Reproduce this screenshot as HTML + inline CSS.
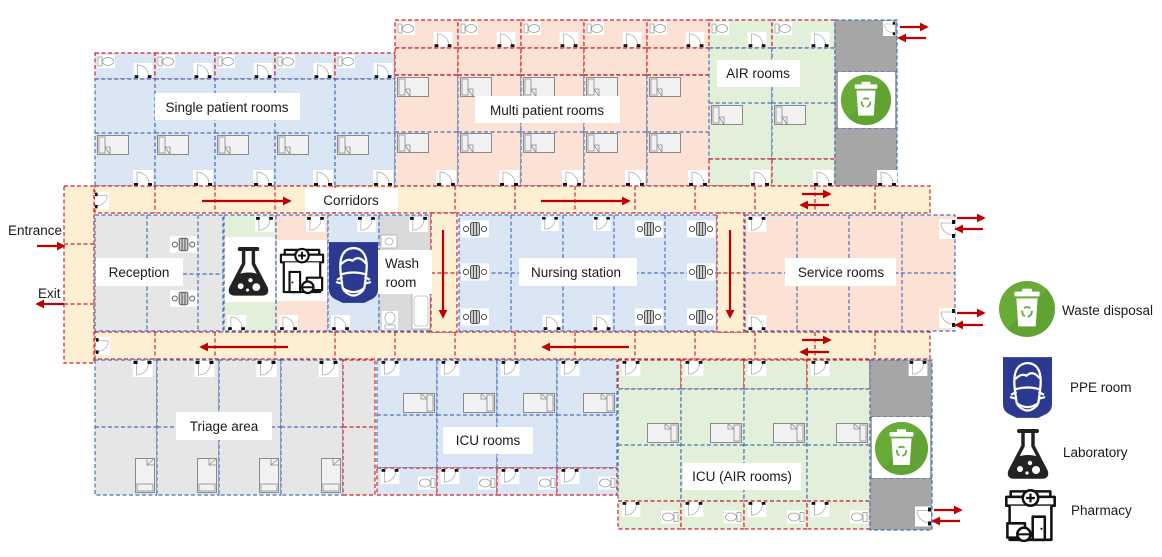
<!DOCTYPE html>
<html><head><meta charset="utf-8"><style>
html,body{margin:0;padding:0;background:#fff}
svg{display:block}
.r{stroke:#c9252c;stroke-width:1.2;stroke-dasharray:4 2.5}
.b{stroke:#4a70bb;stroke-width:1.2;stroke-dasharray:4 2.5}
.fb{fill:#dae6f4}.fp{fill:#fbe2d4}.fg{fill:#e2efd9}.fy{fill:#e6e6e6}.fd{fill:#a6a6a6}.fc{fill:#fdefd4}.fw{fill:#dadada}
text{font-family:"Liberation Sans",sans-serif;font-size:13.5px;fill:#1a1a1a}
.ar{stroke:#c00000;stroke-width:2.2;fill:none}
</style></head><body>
<svg width="1162" height="557" viewBox="0 0 1162 557" xmlns="http://www.w3.org/2000/svg">
<defs>
<marker id="ah" viewBox="0 0 10 10" refX="8" refY="5" markerWidth="4" markerHeight="4" orient="auto"><path d="M0 0L10 5L0 10z" fill="#c00000"/></marker>
<symbol id="door" viewBox="0 0 20 16"><rect width="20" height="16" fill="#fff"/><path d="M4 14V2A12 12 0 0 1 16 14" fill="none" stroke="#aaa" stroke-width="0.8"/><rect x="1" y="13" width="4" height="3" fill="#111"/><rect x="15" y="13" width="4" height="3" fill="#111"/></symbol>
<symbol id="doorT" viewBox="0 0 20 16"><rect width="20" height="16" fill="#fff"/><path d="M4 2V14A12 12 0 0 0 16 2" fill="none" stroke="#aaa" stroke-width="0.8"/><rect x="1" y="0" width="4" height="3" fill="#111"/><rect x="15" y="0" width="4" height="3" fill="#111"/></symbol>
<symbol id="doorR" viewBox="0 0 16 20"><rect width="16" height="20" fill="#fff"/><path d="M14 4H2A12 12 0 0 0 14 16" fill="none" stroke="#aaa" stroke-width="0.8"/><rect x="13" y="1" width="3" height="4" fill="#111"/><rect x="13" y="15" width="3" height="4" fill="#111"/></symbol>
<symbol id="doorL" viewBox="0 0 16 20"><rect width="16" height="20" fill="#fff"/><path d="M2 4H14A12 12 0 0 1 2 16" fill="none" stroke="#aaa" stroke-width="0.8"/><rect x="0" y="1" width="3" height="4" fill="#111"/><rect x="0" y="15" width="3" height="4" fill="#111"/></symbol>
<symbol id="toilet" viewBox="0 0 18 13"><rect width="18" height="13" fill="#fff"/><rect x="1" y="2" width="4" height="9" fill="#fff" stroke="#999" stroke-width="0.8"/><ellipse cx="11" cy="6.5" rx="5.5" ry="4" fill="#fff" stroke="#999" stroke-width="0.8"/></symbol>
<symbol id="toiletR" viewBox="0 0 18 13"><rect width="18" height="13" fill="#fff"/><rect x="13" y="2" width="4" height="9" fill="#fff" stroke="#999" stroke-width="0.8"/><ellipse cx="7" cy="6.5" rx="5.5" ry="4" fill="#fff" stroke="#999" stroke-width="0.8"/></symbol>
<symbol id="bed" viewBox="0 0 32 20"><rect x="0.5" y="0.5" width="31" height="19" fill="#f1f1f1" stroke="#8a8a8a"/><rect x="2" y="2" width="6" height="16" fill="#f1f1f1" stroke="#8a8a8a" stroke-width="0.8"/><path d="M8 12H13V19.5M8 12L13 19.5" fill="none" stroke="#8a8a8a" stroke-width="0.8"/></symbol>
<symbol id="bedR" viewBox="0 0 32 20"><rect x="0.5" y="0.5" width="31" height="19" fill="#f1f1f1" stroke="#8a8a8a"/><rect x="24" y="2" width="6" height="16" fill="#f1f1f1" stroke="#8a8a8a" stroke-width="0.8"/><path d="M18 0.5V6H24M18 0.5L24 6" fill="none" stroke="#8a8a8a" stroke-width="0.8"/></symbol>
<symbol id="bedV" viewBox="0 0 20 35"><rect x="0.5" y="0.5" width="19" height="34" fill="#f1f1f1" stroke="#8a8a8a"/><rect x="2" y="26" width="16" height="7" fill="#f1f1f1" stroke="#8a8a8a" stroke-width="0.8"/><path d="M12 0.5V7H19.5M12 7L19.5 0.5" fill="none" stroke="#8a8a8a" stroke-width="0.8"/></symbol>
<symbol id="chair" viewBox="0 0 28 17"><rect width="28" height="17" fill="#fff"/><circle cx="5" cy="8.5" r="2.6" fill="none" stroke="#555" stroke-width="1"/><circle cx="23" cy="8.5" r="2.6" fill="none" stroke="#555" stroke-width="1"/><rect x="9.5" y="2" width="9" height="13" rx="2" fill="#ccc" stroke="#555" stroke-width="1"/><path d="M12.5 2.5V14.5M15.5 2.5V14.5" stroke="#555" stroke-width="1"/></symbol>
<symbol id="flask" viewBox="0 0 44 52"><path d="M17 4V19L4 44Q2 50 8 50H36Q42 50 40 44L27 19V4" fill="#fff" stroke="#222" stroke-width="3.5" stroke-linejoin="round"/><path d="M13 4H31" stroke="#222" stroke-width="4" stroke-linecap="round"/><path d="M11 30Q22 26 33 30L40 44Q42 50 36 50H8Q2 50 4 44Z" fill="#222"/><circle cx="14" cy="42" r="3" fill="#fff"/><circle cx="24" cy="36" r="2.2" fill="#fff"/><circle cx="30" cy="43" r="4" fill="#fff"/><circle cx="21" cy="46" r="1.6" fill="#fff"/></symbol>
<symbol id="pharm" viewBox="0 0 48 50"><g fill="#fff" stroke="#111" stroke-width="2.3" stroke-linejoin="round"><rect x="6" y="4" width="36" height="5"/><rect x="2" y="9" width="44" height="8"/><path d="M5 17V48H43V17"/><rect x="26" y="27" width="11" height="21"/><rect x="3" y="33" width="16" height="13"/><circle cx="24" cy="10" r="7"/><circle cx="18" cy="43" r="6"/></g><path d="M24 6V14M20 10H28M12 43H24" stroke="#111" stroke-width="2"/><circle cx="34" cy="38" r="1" fill="#111"/></symbol>
<symbol id="pharmM" viewBox="0 0 48 50"><g transform="translate(48,0) scale(-1,1)"><g fill="#fff" stroke="#111" stroke-width="2.3" stroke-linejoin="round"><rect x="6" y="4" width="36" height="5"/><rect x="2" y="9" width="44" height="8"/><path d="M5 17V48H43V17"/><rect x="26" y="27" width="11" height="21"/><rect x="3" y="33" width="16" height="13"/><circle cx="24" cy="10" r="7"/><circle cx="18" cy="43" r="6"/></g><path d="M24 6V14M20 10H28M12 43H24" stroke="#111" stroke-width="2"/><circle cx="34" cy="38" r="1" fill="#111"/></g></symbol>
<symbol id="ppe" viewBox="0 0 50 62"><path d="M0 0H50V48Q50 56 42 59L36 62H14L8 59Q0 56 0 48Z" fill="#2b3990"/><g fill="none" stroke="#fff" stroke-width="2.3" stroke-linejoin="round" stroke-linecap="round"><path d="M12 32Q9 7 25 6Q41 7 38 32"/><path d="M13 22Q19 16 24 19Q30 13 37 21"/><path d="M12 33Q25 29 38 33L36 47Q25 55 14 47Z"/><path d="M13 36L9 38M37 36L41 38M12 42L8 41M38 42L42 41"/><path d="M15 49Q25 60 35 49"/></g></symbol>
<symbol id="waste" viewBox="-30 -30 60 60"><circle r="29" fill="#6aab38"/><path d="M20.5 -20.5A29 29 0 0 1 -20.5 20.5Z" fill="#5e9c30" opacity="0.6"/><rect x="-5" y="-21" width="10" height="3" fill="#fff"/><rect x="-13" y="-18" width="26" height="5" rx="1" fill="#fff"/><path d="M-11 -11H11L9 18H-9Z" fill="#fff"/><circle cx="0" cy="3" r="5" fill="none" stroke="#6aab38" stroke-width="2" stroke-dasharray="7 3"/></symbol>

<g id="cs">
<rect x="0" y="53" width="60" height="26" class="fb r"/>
<rect x="0" y="79" width="60" height="107" class="fb b"/>
<line x1="0" x2="60" y1="133" y2="133" class="b"/>
<use href="#toilet" x="2" y="55" width="18" height="13"/>
<use href="#door" x="38" y="63" width="20" height="15"/>
<use href="#bed" x="2" y="135" width="32" height="20"/>
<use href="#door" x="38" y="170" width="20" height="16"/>
</g>
<g id="cm">
<rect x="0" y="20" width="63" height="28" class="fp r"/>
<rect x="0" y="48" width="63" height="27" class="fp r"/>
<rect x="0" y="75" width="63" height="111" class="fp b"/>
<line x1="0" x2="63" y1="75" y2="75" class="r"/>
<line x1="0" x2="63" y1="132" y2="132" class="b"/>
<use href="#toilet" x="2" y="22" width="18" height="13"/>
<use href="#door" x="38" y="32" width="20" height="15"/>
<use href="#bed" x="2" y="77" width="32" height="20"/>
<use href="#bed" x="2" y="133" width="32" height="20"/>
<use href="#door" x="41" y="170" width="20" height="16"/>
</g>
<g id="ca">
<rect x="0" y="20" width="63" height="28" class="fg r"/>
<rect x="0" y="48" width="63" height="111" class="fg b"/>
<line x1="0" x2="63" y1="103" y2="103" class="b"/>
<rect x="0" y="159" width="63" height="27" class="fg r"/>
<use href="#toilet" x="2" y="22" width="18" height="13"/>
<use href="#door" x="38" y="32" width="20" height="15"/>
<use href="#bed" x="2" y="105" width="32" height="20"/>
<use href="#door" x="41" y="170" width="20" height="16"/>
</g>
<g id="ct">
<rect x="0" y="360" width="62" height="135" class="fy b"/>
<line x1="0" x2="62" y1="427" y2="427" class="b"/>
<use href="#doorT" x="37" y="361" width="21" height="16"/>
<use href="#bedV" x="40" y="458" width="20" height="35"/>
</g>
<g id="ci">
<rect x="0" y="360" width="60" height="108" class="fb b"/>
<line x1="0" x2="60" y1="415" y2="415" class="b"/>
<rect x="0" y="468" width="60" height="27" class="fb r"/>
<use href="#doorT" x="2" y="361" width="22" height="15"/>
<use href="#bedR" x="26" y="393" width="32" height="20"/>
<use href="#doorT" x="2" y="469" width="22" height="15"/>
<use href="#toiletR" x="41" y="476" width="18" height="14"/>
</g>
<g id="cai">
<rect x="0" y="360" width="63" height="29" class="fg r"/>
<rect x="0" y="389" width="63" height="112" class="fg b"/>
<line x1="0" x2="63" y1="445" y2="445" class="b"/>
<rect x="0" y="501" width="63" height="28" class="fg r"/>
<use href="#doorT" x="2" y="361" width="22" height="15"/>
<use href="#bedR" x="29" y="423" width="32" height="20"/>
<use href="#doorT" x="2" y="502" width="22" height="15"/>
<use href="#toiletR" x="43" y="510" width="18" height="14"/>
</g>
</defs>

<!-- top block -->
<use href="#cs" x="95"/><use href="#cs" x="155"/><use href="#cs" x="215"/><use href="#cs" x="275"/><use href="#cs" x="335"/>
<use href="#cm" x="395"/><use href="#cm" x="458"/><use href="#cm" x="521"/><use href="#cm" x="584"/><use href="#cm" x="647"/>
<use href="#ca" x="709"/><use href="#ca" x="772"/>
<rect x="835" y="20" width="62" height="166" class="fd b"/>
<line x1="835" x2="897" y1="72" y2="72" class="b"/><line x1="835" x2="897" y1="128" y2="128" class="b"/>
<rect x="838" y="72" width="57" height="56" fill="#fff"/>
<use href="#waste" x="840" y="74" width="52" height="52"/>
<use href="#doorR" x="881" y="21" width="16" height="15"/>
<use href="#door" x="877" y="170" width="20" height="16"/>

<!-- corridors -->
<rect x="95" y="186" width="835" height="27" class="fc r"/>
<path d="M155 186V213M215 186V213M275 186V213M335 186V213M395 186V213M455 186V213M515 186V213M575 186V213M635 186V213M695 186V213M755 186V213M815 186V213M875 186V213" class="r"/>
<rect x="95" y="332" width="835" height="27" class="fc r"/>
<path d="M155 332V359M215 332V359M275 332V359M335 332V359M395 332V359M455 332V359M515 332V359M575 332V359M635 332V359M695 332V359M755 332V359M815 332V359M875 332V359" class="r"/>
<rect x="64" y="186" width="30" height="177" class="fc r"/>
<path d="M64 244H94M64 304H94" class="r"/>
<use href="#doorL" x="95" y="190" width="14" height="21"/>
<use href="#doorL" x="96" y="335" width="14" height="22"/>

<!-- middle row -->
<rect x="95" y="215" width="128" height="116" class="fy b"/>
<path d="M147 215V331M198 215V331M183 274H223" class="b"/>
<use href="#chair" x="170" y="236" width="27" height="17"/>
<use href="#chair" x="170" y="290" width="27" height="17"/>
<rect x="224" y="215" width="52" height="116" class="fg b"/>
<rect x="225" y="237" width="50" height="65" fill="#fff"/>
<use href="#flask" x="227" y="245" width="43" height="51"/>
<use href="#doorT" x="254" y="217" width="21" height="15"/>
<use href="#door" x="226" y="315" width="21" height="15"/>
<rect x="276" y="215" width="52" height="116" class="fp b"/>
<rect x="277" y="240" width="50" height="61" fill="#fff"/>
<use href="#pharmM" x="279" y="245" width="46" height="50"/>
<use href="#doorT" x="305" y="217" width="21" height="15"/>
<use href="#door" x="278" y="315" width="21" height="15"/>
<rect x="328" y="215" width="51" height="116" class="fb b"/>
<use href="#ppe" x="329" y="241" width="49" height="63"/>
<use href="#doorT" x="356" y="217" width="21" height="15"/>
<use href="#door" x="330" y="315" width="21" height="15"/>
<rect x="379" y="215" width="52" height="116" class="fw b"/>
<use href="#doorT" x="408" y="217" width="21" height="15"/>
<rect x="381" y="235" width="16" height="13" fill="#fff" stroke="#aaa" stroke-width="0.8"/>
<ellipse cx="389" cy="241.5" rx="4" ry="3.5" fill="none" stroke="#aaa" stroke-width="0.8"/>
<rect x="382" y="311" width="16" height="19" fill="#fff"/>
<ellipse cx="390" cy="318" rx="5" ry="6" fill="none" stroke="#aaa" stroke-width="0.8"/>
<rect x="385" y="325" width="10" height="4" fill="none" stroke="#aaa" stroke-width="0.8"/>
<rect x="412" y="293" width="18" height="36" fill="#fff" stroke="#aaa" stroke-width="0.8"/>
<rect x="414" y="296" width="14" height="30" rx="3" fill="none" stroke="#bbb" stroke-width="0.8"/>
<rect x="431" y="213" width="26" height="119" class="fc r"/>
<line x1="431" x2="457" y1="273" y2="273" class="r"/>
<rect x="459" y="215" width="258" height="116" class="fb b"/>
<path d="M511 215V331M563 215V331M614 215V331M665 215V331M459 273H717" class="b"/>
<use href="#chair" x="461" y="220" width="28" height="18"/>
<use href="#chair" x="461" y="263" width="28" height="18"/>
<use href="#chair" x="461" y="308" width="28" height="18"/>
<use href="#chair" x="635" y="220" width="28" height="18"/>
<use href="#chair" x="635" y="308" width="28" height="18"/>
<use href="#chair" x="687" y="220" width="28" height="18"/>
<use href="#chair" x="687" y="263" width="28" height="18"/>
<use href="#chair" x="687" y="308" width="28" height="18"/>
<use href="#doorT" x="539" y="217" width="22" height="14"/>
<use href="#doorT" x="591" y="217" width="22" height="14"/>
<use href="#door" x="541" y="315" width="22" height="15"/>
<use href="#door" x="591" y="315" width="22" height="15"/>
<rect x="717" y="213" width="27" height="119" class="fc r"/>
<line x1="717" x2="744" y1="273" y2="273" class="r"/>
<rect x="745" y="215" width="210" height="116" class="fp b"/>
<path d="M797 215V331M849 215V331M902 215V331M745 273H955" class="b"/>
<use href="#doorT" x="746" y="217" width="22" height="15"/>
<use href="#door" x="746" y="315" width="22" height="15"/>
<use href="#doorR" x="939" y="218" width="16" height="22"/>
<use href="#doorR" x="939" y="307" width="16" height="22"/>

<!-- bottom block -->
<use href="#ct" x="95"/><use href="#ct" x="157"/><use href="#ct" x="219"/><use href="#ct" x="281"/>
<rect x="343" y="360" width="32" height="135" class="fy r"/>
<line x1="343" x2="375" y1="427" y2="427" class="r"/>
<use href="#ci" x="377"/><use href="#ci" x="437"/><use href="#ci" x="497"/><use href="#ci" x="557"/>
<use href="#cai" x="618"/><use href="#cai" x="681"/><use href="#cai" x="744"/><use href="#cai" x="807"/>
<rect x="870" y="360" width="62" height="170" class="fd b"/>
<line x1="870" x2="932" y1="417" y2="417" class="b"/><line x1="870" x2="932" y1="478" y2="478" class="b"/>
<rect x="872" y="417" width="58" height="61" fill="#fff"/>
<use href="#waste" x="874" y="421" width="55" height="55"/>
<use href="#doorT" x="907" y="361" width="22" height="15"/>
<use href="#doorR" x="915" y="505" width="16" height="23"/>

<!-- labels -->
<rect x="155" y="93" width="145" height="27" fill="#fff"/><text x="227" y="112" text-anchor="middle">Single patient rooms</text>
<rect x="475" y="96" width="145" height="27" fill="#fff"/><text x="547" y="115" text-anchor="middle">Multi patient rooms</text>
<rect x="717" y="60" width="83" height="27" fill="#fff"/><text x="758" y="78" text-anchor="middle">AIR rooms</text>
<rect x="305" y="188" width="93" height="24" fill="#fff"/><text x="351" y="205" text-anchor="middle">Corridors</text>
<rect x="96" y="258" width="87" height="28" fill="#fff"/><text x="139" y="277" text-anchor="middle">Reception</text>
<rect x="378" y="250" width="54" height="44" fill="#fff"/><text x="402" y="268" text-anchor="middle">Wash</text><text x="401" y="287" text-anchor="middle">room</text>
<rect x="519" y="258" width="118" height="28" fill="#fff"/><text x="576" y="277" text-anchor="middle">Nursing station</text>
<rect x="785" y="258" width="111" height="28" fill="#fff"/><text x="841" y="277" text-anchor="middle">Service rooms</text>
<rect x="176" y="412" width="96" height="28" fill="#fff"/><text x="224" y="431" text-anchor="middle">Triage area</text>
<rect x="443" y="427" width="90" height="27" fill="#fff"/><text x="488" y="445" text-anchor="middle">ICU rooms</text>
<rect x="683" y="463" width="118" height="27" fill="#fff"/><text x="742" y="481" text-anchor="middle">ICU (AIR rooms)</text>
<text x="8" y="235">Entrance</text>
<text x="38" y="298">Exit</text>

<!-- arrows -->
<g class="ar" marker-end="url(#ah)">
<line x1="202" y1="201" x2="290" y2="201"/>
<line x1="541" y1="201" x2="629" y2="201"/>
<line x1="288" y1="347" x2="201" y2="347"/>
<line x1="629" y1="347" x2="543" y2="347"/>
<line x1="443" y1="230" x2="443" y2="317"/>
<line x1="730" y1="230" x2="730" y2="317"/>
<line x1="802" y1="194" x2="830" y2="194"/>
<line x1="829" y1="205" x2="801" y2="205"/>
<line x1="802" y1="340" x2="830" y2="340"/>
<line x1="829" y1="352" x2="801" y2="352"/>
<line x1="900" y1="27" x2="927" y2="27"/>
<line x1="926" y1="38" x2="899" y2="38"/>
<line x1="957" y1="218" x2="984" y2="218"/>
<line x1="983" y1="229" x2="956" y2="229"/>
<line x1="957" y1="313" x2="984" y2="313"/>
<line x1="983" y1="325" x2="956" y2="325"/>
<line x1="934" y1="510" x2="961" y2="510"/>
<line x1="960" y1="521" x2="933" y2="521"/>
<line x1="37" y1="246" x2="64" y2="246"/>
<line x1="64" y1="304" x2="37" y2="304"/>
</g>

<!-- legend -->
<use href="#waste" x="998" y="280" width="58" height="58"/>
<text x="1062" y="315">Waste disposal</text>
<use href="#ppe" x="1003" y="357" width="49" height="61"/>
<text x="1070" y="392">PPE room</text>
<use href="#flask" x="1006" y="427" width="44" height="52"/>
<text x="1063" y="457">Laboratory</text>
<use href="#pharm" x="1004" y="487" width="53" height="55"/>
<text x="1071" y="515">Pharmacy</text>
</svg>
</body></html>
